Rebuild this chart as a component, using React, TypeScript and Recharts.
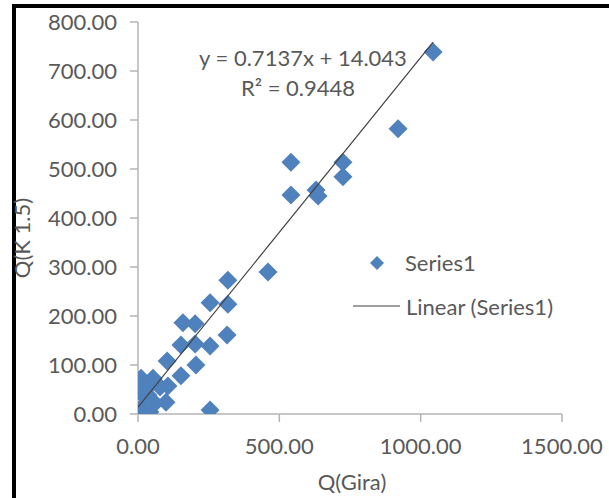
import React from 'react';
import { ScatterChart, Scatter, XAxis, YAxis, Customized } from 'recharts';

// Discharge pairs: Q(Gira) against Q(K 1.5)
const qGira = [1044, 920, 541, 541, 630, 637, 725, 725, 460, 318, 318, 255, 159, 202, 152, 202, 255, 315, 103, 205, 152, 53, 11, 7, 99, 0, 42, 255, 78, 35, 106, 60, 25, 42];
const qK15 = [739, 582, 514, 447, 457, 445, 514, 484, 290, 273, 224, 227, 186, 184, 141, 143, 139, 161, 108, 100, 78, 73, 73, 45, 24, 4, 4, 8, 55, 39, 57, 22, 20, 59];

// Least-squares fit reported on the chart
const slope = 0.7137;
const intercept = 14.043;
const r2 = 0.9448;

const xTicks = [0, 500, 1000, 1500];
const yTicks = [0, 100, 200, 300, 400, 500, 600, 700, 800];

const points = qGira.map((x, i) => ({ x, y: qK15[i] }));
const xMin = Math.min(...qGira);
const xMax = Math.max(...qGira);
const trend = [
  { x: xMin, y: slope * xMin + intercept },
  { x: xMax, y: slope * xMax + intercept },
];

const BLUE = '#4F81BD';
const TEXT = '#595959';
const FONT = 'Lato, "Open Sans", sans-serif';
const FS = 22;

const Diamond = (props: any) => {
  const { cx, cy } = props;
  if (cx == null || cy == null) return <g />;
  const r = 9.5;
  return <path d={`M${cx},${cy - r}L${cx + r},${cy}L${cx},${cy + r}L${cx - r},${cy}Z`} fill={BLUE} />;
};

const NoMarker = () => <g />;

const Overlay = () => {
  const fmt = (v: number) => v.toFixed(4).replace(/0+$/, '');
  return (
    <g fontFamily={FONT} fontSize={FS} fill={TEXT}>
      <text x={303} y={58} textAnchor="middle" dy="0.35em">
        {`y = ${fmt(slope)}x + ${intercept.toFixed(3)}`}
      </text>
      <text x={298} y={88} textAnchor="middle" dy="0.35em">
        {`R² = ${r2.toFixed(4)}`}
      </text>
      {/* legend */}
      <path d="M377,256L384,263L377,270L370,263Z" fill={BLUE} />
      <text x={405} y={263} dy="0.35em">Series1</text>
      <line x1={353} y1={306} x2={400} y2={306} stroke="#404040" strokeWidth={1.2} />
      <text x={406} y={307} dy="0.35em">Linear (Series1)</text>
      {/* axis titles */}
      <text x={352} y={482} textAnchor="middle" dy="0.35em">Q(Gira)</text>
      <text x={22} y={238} textAnchor="middle" dy="0.35em" transform="rotate(-90 22 238)">Q(K 1.5)</text>
    </g>
  );
};

export default function App() {
  const tickStyle = { fill: TEXT, fontSize: FS, fontFamily: FONT };
  return (
    <div style={{ position: 'absolute', left: 0, top: 0, width: 609, height: 498, background: '#fff' }}>
      <div
        style={{
          position: 'absolute',
          left: 12,
          top: 4,
          width: 597,
          height: 494,
          borderTop: '4px solid #000',
          borderLeft: '4px solid #000',
          boxSizing: 'border-box',
        }}
      />
      <ScatterChart width={609} height={498} margin={{ top: 22, right: 47, bottom: 0, left: 0 }}>
        <XAxis
          type="number"
          dataKey="x"
          domain={[0, 1500]}
          ticks={xTicks}
          tickFormatter={(v: number) => v.toFixed(2)}
          height={84}
          tickSize={8}
          tickMargin={16}
          stroke="#B4B4B4"
          strokeWidth={1.5}
          tick={tickStyle}
          allowDataOverflow
        />
        <YAxis
          type="number"
          dataKey="y"
          domain={[0, 800]}
          ticks={yTicks}
          tickFormatter={(v: number) => v.toFixed(2)}
          width={138}
          tickSize={8}
          tickMargin={13}
          stroke="#B4B4B4"
          strokeWidth={1.5}
          tick={tickStyle}
          allowDataOverflow
        />
        <Scatter data={points} shape={Diamond} isAnimationActive={false} />
        <Scatter
          data={trend}
          shape={NoMarker}
          line={{ stroke: '#404040', strokeWidth: 1.2 }}
          isAnimationActive={false}
        />
        <Customized component={Overlay} />
      </ScatterChart>
    </div>
  );
}
